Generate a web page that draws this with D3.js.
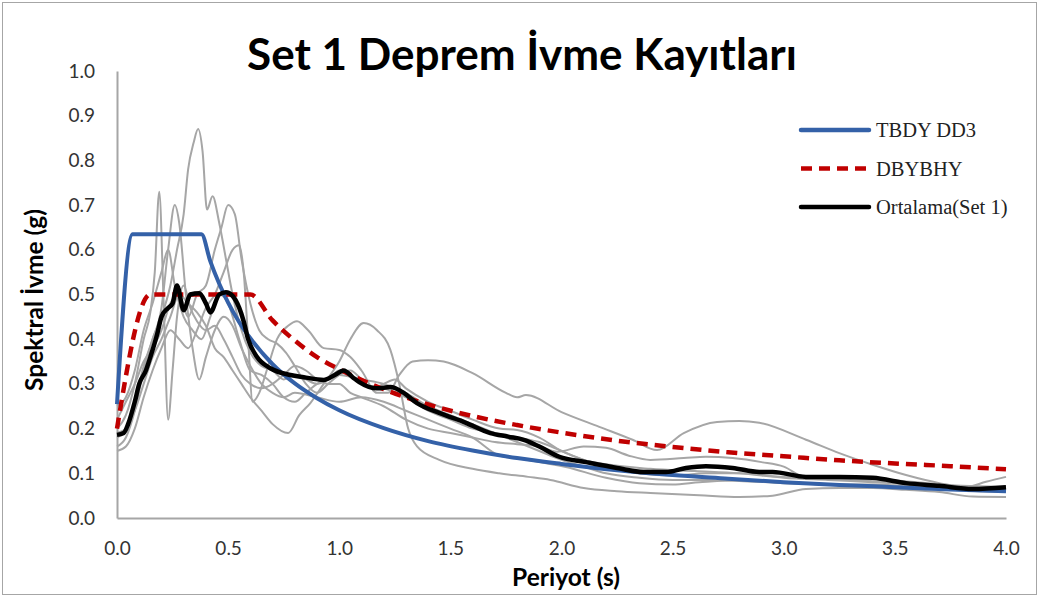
<!DOCTYPE html>
<html>
<head>
<meta charset="utf-8">
<script src="https://cdn.jsdelivr.net/npm/d3@7"></script>
<style>
  html, body { margin: 0; padding: 0; background: #fff; }
  svg { display: block; }
</style>
</head>
<body>
<svg id="chart" width="1041" height="597"></svg>
<script>
// Periods (s) and spectral accelerations (g), as [T, Sa] pairs.
const tbdyDD3 = [
  [0, 0.255], [0.07, 0.635], [0.38, 0.635], [0.42, 0.574], [0.46, 0.524], [0.5, 0.482],
  [0.55, 0.438], [0.6, 0.402], [0.7, 0.344], [0.8, 0.301], [0.9, 0.268], [1.0, 0.241],
  [1.2, 0.201], [1.4, 0.172], [1.6, 0.151], [1.8, 0.134], [2.0, 0.121], [2.25, 0.107],
  [2.5, 0.096], [2.75, 0.088], [3.0, 0.080], [3.25, 0.074], [3.5, 0.069], [3.75, 0.064], [4.0, 0.060]
];
const dbybhy = [
  [0, 0.2], [0.15, 0.5], [0.6, 0.5], [0.7, 0.442], [0.8, 0.397], [0.9, 0.36], [1.0, 0.333],
  [1.2, 0.288], [1.4, 0.254], [1.6, 0.228], [1.8, 0.208], [2.0, 0.191], [2.25, 0.173],
  [2.5, 0.159], [2.75, 0.147], [3.0, 0.138], [3.25, 0.129], [3.5, 0.122], [3.75, 0.116], [4.0, 0.109]
];
const ortalama = [
  [0, 0.186], [0.03, 0.19], [0.05, 0.21], [0.08, 0.26], [0.1, 0.30], [0.13, 0.33], [0.15, 0.36],
  [0.18, 0.41], [0.2, 0.45], [0.23, 0.47], [0.25, 0.48], [0.27, 0.52], [0.3, 0.465], [0.33, 0.5],
  [0.37, 0.503], [0.4, 0.48], [0.42, 0.46], [0.46, 0.5], [0.49, 0.505], [0.52, 0.497], [0.55, 0.47],
  [0.57, 0.44], [0.59, 0.40], [0.63, 0.36], [0.69, 0.335], [0.78, 0.32], [0.84, 0.315], [0.93, 0.309],
  [0.98, 0.32], [1.02, 0.33], [1.06, 0.315], [1.09, 0.304], [1.17, 0.29], [1.23, 0.293], [1.29, 0.28],
  [1.35, 0.257], [1.45, 0.235], [1.57, 0.213], [1.68, 0.19], [1.76, 0.182], [1.83, 0.175], [1.9, 0.16],
  [1.99, 0.137], [2.11, 0.125], [2.25, 0.112], [2.37, 0.103], [2.47, 0.103], [2.56, 0.112], [2.65, 0.116],
  [2.77, 0.112], [2.89, 0.103], [2.95, 0.103], [3.1, 0.092], [3.25, 0.092], [3.4, 0.09], [3.55, 0.078],
  [3.7, 0.072], [3.85, 0.065], [4.0, 0.069]
];

// Individual records of the set
const kayit1 = [
  [0, 0.16], [0.04, 0.18], [0.08, 0.24], [0.12, 0.33], [0.16, 0.4], [0.2, 0.45], [0.24, 0.52], [0.27, 0.6],
  [0.3, 0.68], [0.32, 0.78], [0.345, 0.84], [0.365, 0.87], [0.385, 0.82], [0.405, 0.69], [0.43, 0.72],
  [0.46, 0.66], [0.49, 0.58], [0.52, 0.5], [0.56, 0.42], [0.6, 0.37], [0.65, 0.34], [0.7, 0.33], [0.75, 0.31],
  [0.8, 0.32], [0.85, 0.31], [0.9, 0.3], [0.95, 0.31], [1.0, 0.33], [1.05, 0.32], [1.1, 0.3], [1.2, 0.29],
  [1.3, 0.27], [1.4, 0.24], [1.5, 0.22], [1.6, 0.2], [1.7, 0.19], [1.8, 0.18], [1.9, 0.17], [2.0, 0.15],
  [2.1, 0.13], [2.2, 0.12], [2.4, 0.11], [2.6, 0.105], [2.8, 0.1], [3.0, 0.09], [3.2, 0.085], [3.4, 0.08],
  [3.6, 0.075], [3.8, 0.07], [4.0, 0.066]
];
const kayit2 = [
  [0, 0.2], [0.04, 0.23], [0.08, 0.3], [0.12, 0.4], [0.15, 0.46], [0.17, 0.55], [0.19, 0.73], [0.21, 0.48],
  [0.23, 0.22], [0.25, 0.33], [0.27, 0.45], [0.3, 0.52], [0.33, 0.47], [0.36, 0.44], [0.4, 0.42], [0.44, 0.43],
  [0.48, 0.4], [0.52, 0.36], [0.56, 0.32], [0.6, 0.3], [0.65, 0.29], [0.7, 0.3], [0.75, 0.32], [0.8, 0.34],
  [0.85, 0.33], [0.9, 0.31], [0.95, 0.3], [1.0, 0.3], [1.05, 0.28], [1.1, 0.27], [1.2, 0.25], [1.3, 0.22],
  [1.4, 0.2], [1.5, 0.19], [1.6, 0.18], [1.7, 0.17], [1.8, 0.165], [1.9, 0.16], [1.98, 0.148], [2.1, 0.16],
  [2.2, 0.157], [2.3, 0.14], [2.4, 0.13], [2.55, 0.134], [2.65, 0.137], [2.77, 0.134], [2.9, 0.125],
  [3.0, 0.115], [3.1, 0.09], [3.3, 0.085], [3.5, 0.08], [3.7, 0.072], [3.9, 0.068], [4.0, 0.07]
];
const kayit3 = [
  [0, 0.18], [0.04, 0.2], [0.08, 0.26], [0.12, 0.34], [0.16, 0.4], [0.2, 0.47], [0.23, 0.6], [0.26, 0.7],
  [0.28, 0.66], [0.31, 0.5], [0.34, 0.38], [0.37, 0.31], [0.4, 0.36], [0.44, 0.42], [0.48, 0.45], [0.52, 0.43],
  [0.56, 0.38], [0.6, 0.34], [0.65, 0.3], [0.7, 0.28], [0.75, 0.27], [0.8, 0.28], [0.9, 0.27], [1.0, 0.26],
  [1.1, 0.27], [1.2, 0.26], [1.3, 0.24], [1.4, 0.22], [1.5, 0.2], [1.6, 0.18], [1.72, 0.14], [1.85, 0.13],
  [2.02, 0.114], [2.2, 0.09], [2.35, 0.078], [2.5, 0.075], [2.62, 0.08], [2.8, 0.085], [3.0, 0.08],
  [3.2, 0.075], [3.4, 0.075], [3.6, 0.07], [3.8, 0.062], [4.0, 0.058]
];
const kayit4 = [
  [0, 0.22], [0.04, 0.26], [0.08, 0.3], [0.12, 0.35], [0.16, 0.38], [0.2, 0.42], [0.24, 0.48], [0.28, 0.5],
  [0.32, 0.45], [0.36, 0.5], [0.4, 0.52], [0.44, 0.6], [0.47, 0.65], [0.5, 0.7], [0.53, 0.68], [0.56, 0.58],
  [0.6, 0.48], [0.64, 0.42], [0.68, 0.4], [0.72, 0.39], [0.76, 0.37], [0.8, 0.34], [0.85, 0.3], [0.9, 0.28],
  [0.95, 0.3], [1.0, 0.32], [1.05, 0.33], [1.1, 0.31], [1.15, 0.29], [1.2, 0.3], [1.25, 0.31], [1.3, 0.29],
  [1.4, 0.26], [1.5, 0.24], [1.6, 0.22], [1.72, 0.2], [1.8, 0.197], [1.9, 0.18], [2.0, 0.15], [2.1, 0.13],
  [2.2, 0.115], [2.35, 0.1], [2.5, 0.095], [2.65, 0.1], [2.8, 0.1], [3.0, 0.092], [3.2, 0.09], [3.4, 0.088],
  [3.6, 0.08], [3.8, 0.072], [4.0, 0.07]
];
const kayit5 = [
  [0, 0.15], [0.04, 0.16], [0.08, 0.2], [0.12, 0.27], [0.16, 0.33], [0.2, 0.38], [0.24, 0.42], [0.28, 0.4],
  [0.32, 0.38], [0.36, 0.42], [0.4, 0.47], [0.44, 0.5], [0.48, 0.55], [0.52, 0.6], [0.55, 0.61], [0.57, 0.55],
  [0.59, 0.4], [0.61, 0.26], [0.64, 0.28], [0.68, 0.34], [0.72, 0.4], [0.77, 0.43], [0.81, 0.44], [0.86, 0.42],
  [0.93, 0.38], [1.0, 0.376], [1.05, 0.36], [1.1, 0.33], [1.17, 0.28], [1.22, 0.28], [1.27, 0.32], [1.33, 0.35],
  [1.4, 0.353], [1.47, 0.35], [1.6, 0.324], [1.75, 0.28], [1.8, 0.27], [1.84, 0.275], [2.0, 0.237],
  [2.17, 0.204], [2.32, 0.175], [2.43, 0.152], [2.55, 0.19], [2.7, 0.215], [2.8, 0.217], [2.89, 0.213],
  [3.1, 0.175], [3.25, 0.145], [3.4, 0.119], [3.55, 0.096], [3.7, 0.078], [3.82, 0.069], [3.91, 0.081], [4.0, 0.092]
];
const kayit6 = [
  [0, 0.19], [0.04, 0.2], [0.08, 0.24], [0.12, 0.3], [0.16, 0.36], [0.2, 0.4], [0.24, 0.45], [0.28, 0.5],
  [0.32, 0.48], [0.36, 0.46], [0.4, 0.43], [0.44, 0.38], [0.48, 0.36], [0.52, 0.33], [0.56, 0.3], [0.6, 0.27],
  [0.65, 0.24], [0.7, 0.21], [0.77, 0.19], [0.82, 0.23], [0.87, 0.257], [0.93, 0.3], [1.0, 0.35], [1.05, 0.4],
  [1.11, 0.436], [1.17, 0.42], [1.23, 0.376], [1.27, 0.3], [1.31, 0.2], [1.35, 0.16], [1.45, 0.13], [1.6, 0.11],
  [1.72, 0.1], [1.85, 0.092], [1.95, 0.085], [2.1, 0.067], [2.25, 0.06], [2.4, 0.056], [2.62, 0.051],
  [2.8, 0.047], [2.95, 0.05], [3.1, 0.065], [3.25, 0.067], [3.4, 0.067], [3.55, 0.063], [3.7, 0.058],
  [3.85, 0.048], [4.0, 0.047]
];
const kayit7 = [
  [0, 0.25], [0.04, 0.27], [0.08, 0.33], [0.12, 0.42], [0.16, 0.48], [0.2, 0.55], [0.23, 0.6], [0.26, 0.52],
  [0.3, 0.45], [0.34, 0.42], [0.38, 0.4], [0.42, 0.45], [0.46, 0.5], [0.5, 0.48], [0.55, 0.4], [0.6, 0.33],
  [0.65, 0.32], [0.7, 0.3], [0.75, 0.27], [0.8, 0.26], [0.85, 0.28], [0.9, 0.3], [1.0, 0.32], [1.1, 0.31],
  [1.2, 0.3], [1.3, 0.28], [1.4, 0.25], [1.5, 0.23], [1.6, 0.21], [1.7, 0.19], [1.8, 0.17], [1.9, 0.15],
  [2.0, 0.13], [2.1, 0.115], [2.2, 0.1], [2.35, 0.09], [2.5, 0.085], [2.65, 0.085], [2.8, 0.083],
  [3.0, 0.078], [3.2, 0.075], [3.4, 0.072], [3.6, 0.068], [3.8, 0.066], [4.0, 0.064]
];
const kayitlar = [kayit1, kayit2, kayit3, kayit4, kayit5, kayit6, kayit7];

const xTicks = [0, 0.5, 1.0, 1.5, 2.0, 2.5, 3.0, 3.5, 4.0];
const yTicks = [0, 0.1, 0.2, 0.3, 0.4, 0.5, 0.6, 0.7, 0.8, 0.9, 1.0];

const legendItems = [
  { label: "TBDY DD3", color: "#3461a8", dash: null },
  { label: "DBYBHY", color: "#c00000", dash: "11,7" },
  { label: "Ortalama(Set 1)", color: "#000000", dash: null }
];

// ---- drawing ----
const svg = d3.select("#chart");
const W = 1041, H = 597;
const plot = { left: 117, right: 1006, top: 71, bottom: 518 };
const sans = "Lato, 'Open Sans', sans-serif";

const x = d3.scaleLinear().domain([0, 4]).range([plot.left, plot.right]);
const y = d3.scaleLinear().domain([0, 1]).range([plot.bottom, plot.top]);

// scale a text's font size so that it spans the given width
function fitWidth(sel, size, target) {
  sel.attr("font-size", size);
  const w = sel.node().getComputedTextLength();
  sel.attr("font-size", size * target / w);
}

// outer frame
svg.append("rect")
  .attr("x", 2.5).attr("y", 2.5)
  .attr("width", W - 7).attr("height", H - 5)
  .attr("fill", "#fff").attr("stroke", "#a6a6a6").attr("stroke-width", 1);

// title
const title = svg.append("text")
  .attr("x", 522).attr("y", 70)
  .attr("text-anchor", "middle")
  .attr("font-family", sans)
  .attr("font-weight", "bold")
  .attr("fill", "#000")
  .text("Set 1 Deprem İvme Kayıtları");
fitWidth(title, 38, 550);

// axes
const xAxis = d3.axisBottom(x).tickValues(xTicks).tickFormat(d3.format(".1f")).tickSize(0).tickPadding(24);
const yAxis = d3.axisLeft(y).tickValues(yTicks).tickFormat(d3.format(".1f")).tickSize(0).tickPadding(22);

const gx = svg.append("g").attr("transform", `translate(0,${plot.bottom})`).call(xAxis);
const gy = svg.append("g").attr("transform", `translate(${plot.left},0)`).call(yAxis);
[gx, gy].forEach(g => {
  g.select(".domain").attr("stroke", "#a6a6a6").attr("stroke-width", 2);
  g.selectAll("text")
    .attr("font-family", sans)
    .attr("font-size", 19)
    .attr("fill", "#333");
});

// axis titles
const xTitle = svg.append("text")
  .attr("x", 566).attr("y", 586)
  .attr("text-anchor", "middle")
  .attr("font-family", sans)
  .attr("font-weight", "bold")
  .attr("fill", "#000")
  .text("Periyot (s)");
fitWidth(xTitle, 20, 108);

const yTitle = svg.append("text")
  .attr("transform", `translate(43,300) rotate(-90)`)
  .attr("text-anchor", "middle")
  .attr("font-family", sans)
  .attr("font-weight", "bold")
  .attr("fill", "#000")
  .text("Spektral İvme (g)");
fitWidth(yTitle, 20, 182);

// lines
const line = d3.line()
  .x(d => x(d[0]))
  .y(d => y(d[1]))
  .curve(d3.curveMonotoneX);

const series = svg.append("g");
series.selectAll("path.kayit")
  .data(kayitlar)
  .join("path")
  .attr("class", "kayit")
  .attr("d", line)
  .attr("fill", "none")
  .attr("stroke", "#a6a6a6")
  .attr("stroke-width", 2)
  .attr("stroke-linejoin", "round");

series.append("path")
  .attr("d", line(tbdyDD3))
  .attr("fill", "none")
  .attr("stroke", legendItems[0].color)
  .attr("stroke-width", 4)
  .attr("stroke-linejoin", "round");

series.append("path")
  .attr("d", line(dbybhy))
  .attr("fill", "none")
  .attr("stroke", legendItems[1].color)
  .attr("stroke-width", 4.5)
  .attr("stroke-dasharray", legendItems[1].dash);

series.append("path")
  .attr("d", line(ortalama))
  .attr("fill", "none")
  .attr("stroke", legendItems[2].color)
  .attr("stroke-width", 4.5)
  .attr("stroke-linejoin", "round");

// legend
const legend = svg.append("g").attr("transform", "translate(801,130)");
const rows = legend.selectAll("g")
  .data(legendItems)
  .join("g")
  .attr("transform", (d, i) => `translate(0,${i * 38.5})`);
rows.append("line")
  .attr("x1", 0).attr("x2", 68)
  .attr("y1", 0).attr("y2", 0)
  .attr("stroke", d => d.color)
  .attr("stroke-width", 4.5)
  .attr("stroke-linecap", d => d.dash ? "butt" : "round")
  .attr("stroke-dasharray", d => d.dash);
rows.append("text")
  .attr("x", 75).attr("y", 7)
  .attr("font-family", "'Liberation Serif', 'Times New Roman', serif")
  .attr("font-size", 20.5)
  .attr("fill", "#222")
  .text(d => d.label);
</script>
</body>
</html>
